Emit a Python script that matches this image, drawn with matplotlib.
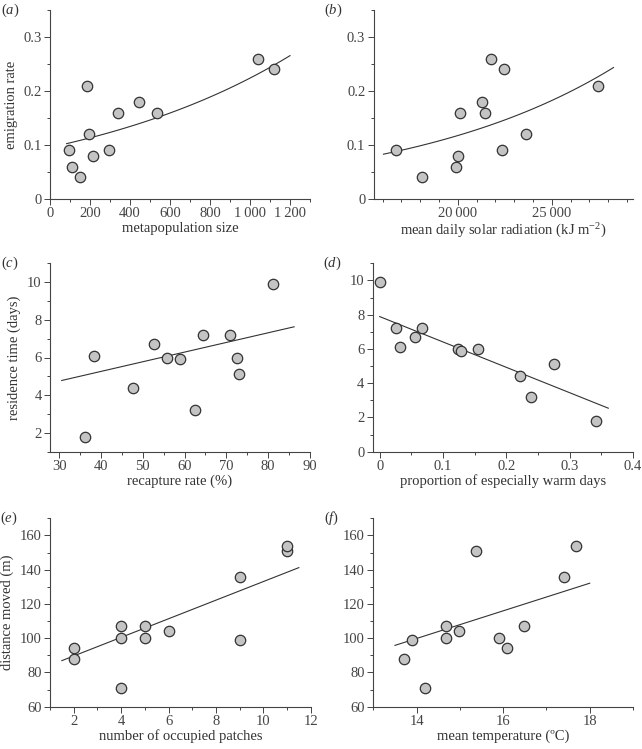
import matplotlib
matplotlib.use('Agg')
import matplotlib.pyplot as plt
from matplotlib.ticker import MultipleLocator, FuncFormatter
import numpy as np

plt.rcParams['font.family'] = 'Liberation Serif'
plt.rcParams['mathtext.fontset'] = 'custom'
plt.rcParams['mathtext.rm'] = 'Liberation Serif'
plt.rcParams['mathtext.it'] = 'Liberation Serif:italic'
plt.rcParams['font.size'] = 10.5
plt.rcParams['text.color'] = '#333333'
plt.rcParams['axes.labelcolor'] = '#333333'
plt.rcParams['xtick.color'] = '#444444'
plt.rcParams['ytick.color'] = '#444444'

# (a) emigration rate vs metapopulation size
meta_size = [97, 112, 148, 183, 193, 213, 293, 338, 445, 533, 1042, 1120]
emig_a = [0.09, 0.06, 0.04, 0.21, 0.12, 0.08, 0.09, 0.16, 0.18, 0.16, 0.26, 0.24]
fit_a = (83, 1200, 0.1025, 0.000852)   # x0, x1, y at x0, exp rate

# (b) emigration rate vs solar radiation
solar = [16700, 18100, 19890, 20030, 20120, 21290, 21440, 21790, 22340, 22450, 23630, 27470]
emig_b = [0.09, 0.04, 0.06, 0.08, 0.16, 0.18, 0.16, 0.26, 0.09, 0.24, 0.12, 0.21]
fit_b = (16050, 28280, 0.083, 8.8e-5)

# (c) residence time vs recapture rate
recap = [36.1, 38.3, 47.6, 52.6, 55.9, 58.8, 62.6, 64.3, 70.9, 72.6, 72.9, 81.1]
resid_c = [1.8, 6.1, 4.4, 6.7, 6.0, 5.9, 3.2, 7.2, 7.2, 6.0, 5.1, 9.9]
fit_c = ([30.6, 86.2], [4.78, 7.63])

# (d) residence time vs warm days
warm = [0.0, 0.026, 0.032, 0.056, 0.067, 0.124, 0.128, 0.156, 0.222, 0.239, 0.276, 0.342]
resid_d = [9.9, 7.2, 6.1, 6.7, 7.2, 6.0, 5.9, 6.0, 4.4, 3.2, 5.1, 1.8]
fit_d = ([0.0, 0.361], [7.89, 2.54])

# (e) distance moved vs occupied patches
patches = [2, 2, 4, 4, 4, 5, 5, 6, 9, 9, 11, 11]
dist_e = [94, 88, 71, 100, 107, 107, 100, 104, 136, 99, 151, 154]
fit_e = ([1.5, 11.5], [86.9, 141.2])

# (f) distance moved vs mean temperature
temp = [13.70, 13.89, 14.19, 14.69, 14.69, 14.99, 15.38, 15.90, 16.10, 16.49, 17.41, 17.69]
dist_f = [88, 99, 71, 107, 100, 104, 151, 100, 94, 107, 136, 154]
fit_f = ([13.5, 18.0], [95.8, 132.1])

fig = plt.figure(figsize=(6.42, 7.49), dpi=100)
W, H = 642.0, 749.0

def make_ax(l, r, t, b):
    ax = fig.add_axes([l / W, 1 - b / H, (r - l) / W, (b - t) / H])
    for s in ['top', 'right']:
        ax.spines[s].set_visible(False)
    for s in ['left', 'bottom']:
        ax.spines[s].set_color('#444444')
        ax.spines[s].set_linewidth(0.8)
    ax.tick_params(which='both', direction='out', width=0.7, pad=2)
    ax.tick_params(which='major', length=4)
    ax.tick_params(which='minor', length=2.5)
    return ax

def pts(ax, x, y):
    ax.plot(x, y, 'o', ms=7.5, mfc='#c4c4c4', mec='#333333', mew=0.9, zorder=3)

def panel(ax, letter):
    ax.text(-0.19, 1.0, r'($\mathit{' + letter + r'}$)', transform=ax.transAxes,
            fontsize=10.5, ha='left', va='center')

def spaced(v, pos):
    s = '{:,.0f}'.format(v)
    return s.replace(',', '\u2009')

# (a)
ax = make_ax(50, 310, 10, 199)
x = np.linspace(fit_a[0], fit_a[1], 100)
ax.plot(x, fit_a[2] * np.exp(fit_a[3] * (x - fit_a[0])), color='#333333', lw=0.8)
pts(ax, meta_size, emig_a)
ax.set_xlim(0, 1300)
ax.set_ylim(0, 0.35)
ax.xaxis.set_major_locator(MultipleLocator(200))
ax.xaxis.set_minor_locator(MultipleLocator(100))
ax.yaxis.set_major_locator(MultipleLocator(0.1))
ax.yaxis.set_minor_locator(MultipleLocator(0.05))
ax.xaxis.set_major_formatter(FuncFormatter(spaced))
ax.yaxis.set_major_formatter(FuncFormatter(lambda v, p: '0' if v == 0 else '%.1f' % v))
ax.set_xlabel('metapopulation size', labelpad=1)
ax.set_ylabel('emigration rate', labelpad=4)
panel(ax, 'a')

# (b)
ax = make_ax(373.7, 632.7, 10, 199)
x = np.linspace(fit_b[0], fit_b[1], 100)
ax.plot(x, fit_b[2] * np.exp(fit_b[3] * (x - fit_b[0])), color='#333333', lw=0.8)
pts(ax, solar, emig_b)
ax.set_xlim(15530, 29300)
ax.set_ylim(0, 0.35)
ax.xaxis.set_major_locator(MultipleLocator(5000))
ax.xaxis.set_minor_locator(MultipleLocator(1000))
ax.yaxis.set_major_locator(MultipleLocator(0.1))
ax.yaxis.set_minor_locator(MultipleLocator(0.05))
ax.xaxis.set_major_formatter(FuncFormatter(spaced))
ax.yaxis.set_major_formatter(FuncFormatter(lambda v, p: '0' if v == 0 else '%.1f' % v))
ax.set_xlabel(r'mean daily solar radiation (kJ m$^{-2}$)', labelpad=1)
panel(ax, 'b')

# (c)
ax = make_ax(50, 310, 263.3, 451.7)
ax.plot(fit_c[0], fit_c[1], color='#333333', lw=0.8)
pts(ax, recap, resid_c)
ax.set_xlim(27.8, 90)
ax.set_ylim(1, 11)
ax.xaxis.set_major_locator(MultipleLocator(10))
ax.xaxis.set_minor_locator(MultipleLocator(5))
ax.set_yticks([2, 4, 6, 8, 10])
ax.yaxis.set_minor_locator(MultipleLocator(1))
ax.set_xlabel('recapture rate (%)', labelpad=1)
ax.set_ylabel('residence time (days)', labelpad=4)
panel(ax, 'c')

# (d)
ax = make_ax(372.7, 633, 263.3, 451.7)
ax.plot(fit_d[0], fit_d[1], color='#333333', lw=0.8)
pts(ax, warm, resid_d)
ax.set_xlim(-0.011, 0.4)
ax.set_ylim(0, 11)
ax.xaxis.set_major_locator(MultipleLocator(0.1))
ax.xaxis.set_minor_locator(MultipleLocator(0.05))
ax.set_yticks([0, 2, 4, 6, 8, 10])
ax.yaxis.set_minor_locator(MultipleLocator(1))
ax.xaxis.set_major_formatter(FuncFormatter(lambda v, p: '0' if abs(v) < 1e-9 else '%.1f' % v))
ax.set_xlabel('proportion of especially warm days', labelpad=1)
panel(ax, 'd')

# (e)
ax = make_ax(50, 310.7, 518.3, 706.7)
ax.plot(fit_e[0], fit_e[1], color='#333333', lw=0.8)
pts(ax, patches, dist_e)
ax.set_xlim(1, 12)
ax.set_ylim(60, 170)
ax.set_xticks([2, 4, 6, 8, 10, 12])
ax.xaxis.set_minor_locator(MultipleLocator(1))
ax.yaxis.set_major_locator(MultipleLocator(20))
ax.yaxis.set_minor_locator(MultipleLocator(10))
ax.set_xlabel('number of occupied patches', labelpad=1)
ax.set_ylabel('distance moved (m)', labelpad=4)
panel(ax, 'e')

# (f)
ax = make_ax(373.3, 633, 518.3, 706.7)
ax.plot(fit_f[0], fit_f[1], color='#333333', lw=0.8)
pts(ax, temp, dist_f)
ax.set_xlim(13, 19)
ax.set_ylim(60, 170)
ax.set_xticks([14, 16, 18])
ax.xaxis.set_minor_locator(MultipleLocator(1))
ax.yaxis.set_major_locator(MultipleLocator(20))
ax.yaxis.set_minor_locator(MultipleLocator(10))
ax.set_xlabel('mean temperature (\u00baC)', labelpad=1)
panel(ax, 'f')

fig.savefig('out.png', dpi=100)
